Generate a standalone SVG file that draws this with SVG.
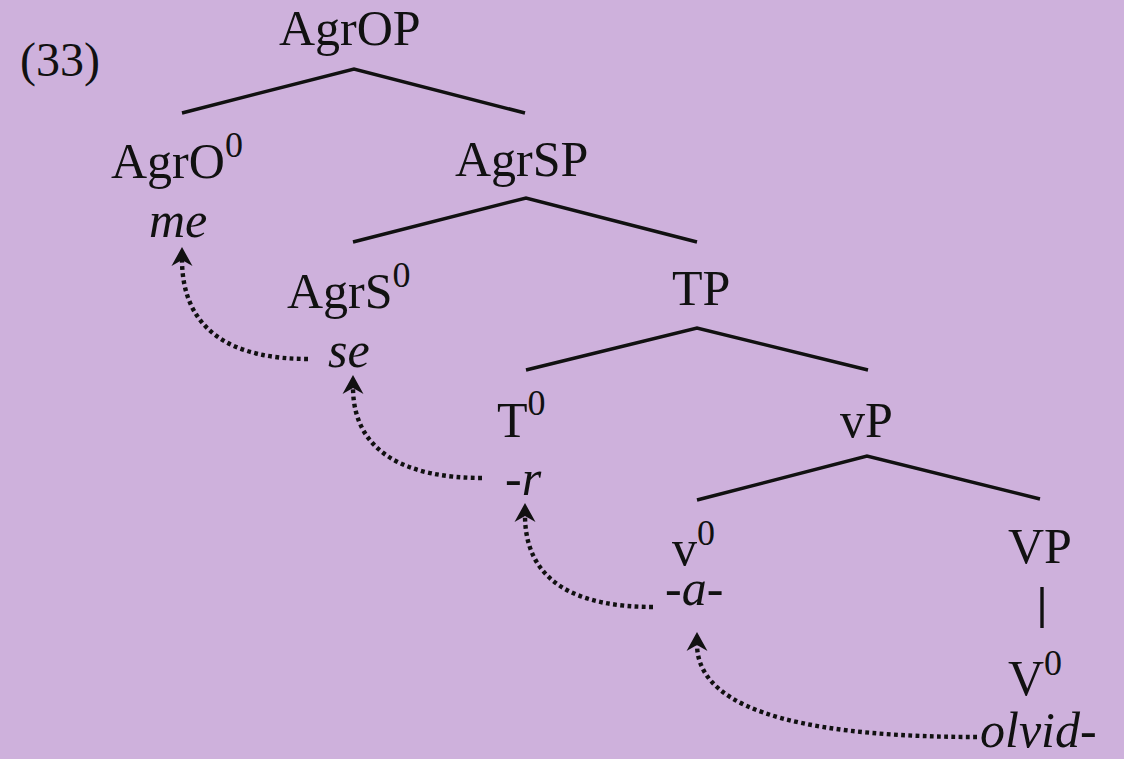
<svg xmlns="http://www.w3.org/2000/svg" width="1124" height="759" viewBox="0 0 1124 759" font-family="'Liberation Serif', 'Times New Roman', serif">
<style>
  text { font-family: "Liberation Serif", "Times New Roman", serif; }
  .lbl { font-size: 50px; fill: #111; }
  .it { font-style: italic; }
  .sup { font-size: 36px; }
  .edge { fill: none; stroke: #111; stroke-width: 3.4; stroke-linejoin: miter; }
  .move { fill: none; stroke: #111; stroke-width: 4.4; stroke-dasharray: 3.8 3.4; }
</style>
<defs>
  <marker id="ah" markerUnits="userSpaceOnUse" viewBox="-22 -13 24 26" refX="-12" refY="0" markerWidth="24" markerHeight="26" orient="auto" overflow="visible">
    <path d="M0,0 L-19,-10.5 L-13,0 L-19,10.5 Z" fill="#111"/>
  </marker>
</defs>
<rect width="1124" height="759" fill="#CEB1DC"/>

<g id="example-number"><text class="lbl" x="20" y="76" style="font-size:48px">(33)</text></g>

<g id="connectors">
  <polyline class="edge" points="182,113 354,69 525,113"/>
  <polyline class="edge" points="353,242 526,198 697,242"/>
  <polyline class="edge" points="526,370 697,328 868,370"/>
  <polyline class="edge" points="697,500 867,456 1040,499"/>
  <line class="edge" x1="1042" y1="587" x2="1042" y2="628"/>
  <path class="move" d="M308,359 C235,359 182,333 182,259" marker-end="url(#ah)"/>
  <path class="move" d="M482,478 C407,478 353,453 353,387" marker-end="url(#ah)"/>
  <path class="move" d="M653,607 C578,607 525,583 525,515" marker-end="url(#ah)"/>
  <path class="move" d="M977,737 C830,737 697,718 697,644" marker-end="url(#ah)"/>
</g>

<g id="AgrOP"><text class="lbl" x="279" y="45">AgrOP</text></g>
<g id="AgrO0">
  <text class="lbl" x="111" y="178">AgrO<tspan class="sup" y="157">0</tspan></text>
  <text class="lbl it" x="149" y="237">me</text>
</g>
<g id="AgrSP"><text class="lbl" x="455" y="176">AgrSP</text></g>
<g id="AgrS0">
  <text class="lbl" x="287" y="308">AgrS<tspan class="sup" y="287">0</tspan></text>
  <text class="lbl it" x="328" y="367">se</text>
</g>
<g id="TP"><text class="lbl" x="672" y="305">TP</text></g>
<g id="T0">
  <text class="lbl" x="497" y="437">T<tspan class="sup" y="415">0</tspan></text>
  <text class="lbl it" x="505" y="495">-r</text>
</g>
<g id="vP"><text class="lbl" x="840" y="437">vP</text></g>
<g id="v0">
  <text class="lbl" x="672" y="565">v<tspan class="sup" y="545">0</tspan></text>
  <text class="lbl it" x="665" y="605">-a-</text>
</g>
<g id="VP"><text class="lbl" x="1008" y="563">VP</text></g>
<g id="V0">
  <text class="lbl" x="1008" y="695">V<tspan class="sup" y="675">0</tspan></text>
  <text class="lbl it" x="980" y="747">olvid-</text>
</g>
</svg>
